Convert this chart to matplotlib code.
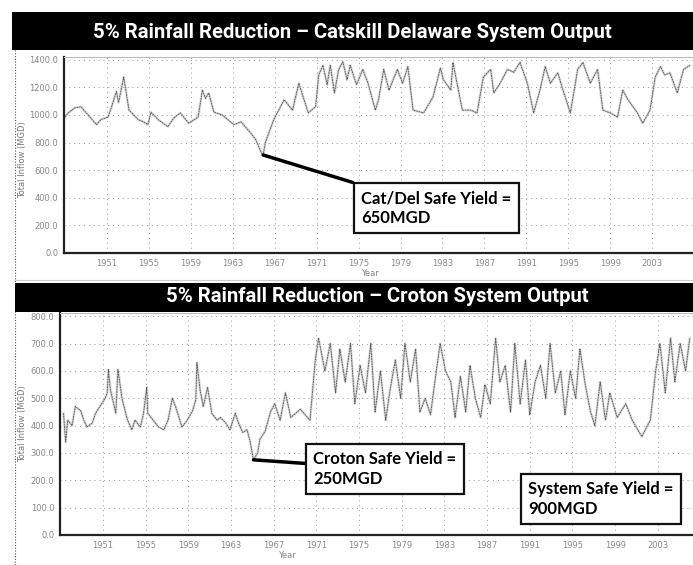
import matplotlib
matplotlib.use('Agg')
import matplotlib.pyplot as plt
from matplotlib.patches import Rectangle
from matplotlib.lines import Line2D

# ---- data ----
top_years = [1947.0, 1947.3, 1947.9, 1948.5, 1949.2, 1950.0, 1950.4, 1951.1, 1951.4, 1951.9,
             1952.1, 1952.6, 1953.1, 1954.0, 1954.5, 1954.9, 1955.2, 1955.9, 1956.8, 1957.4,
             1958.0, 1958.8, 1959.7, 1960.1, 1960.4, 1960.7, 1961.2, 1962.0, 1963.1, 1963.8,
             1964.7, 1965.2, 1965.7, 1965.9, 1966.1, 1966.9, 1967.9, 1968.7, 1969.3, 1970.2,
             1970.9, 1971.2, 1971.6, 1972.0, 1972.3, 1972.7, 1973.1, 1973.5, 1973.9, 1974.2,
             1974.8, 1975.4, 1975.9, 1976.6, 1976.9, 1977.4, 1977.9, 1978.7, 1979.2, 1979.7,
             1980.2, 1981.2, 1982.1, 1982.8, 1983.1, 1983.8, 1984.0, 1984.9, 1985.7, 1986.3,
             1986.9, 1987.6, 1987.9, 1988.5, 1989.2, 1989.8, 1990.4, 1991.1, 1991.7, 1992.3,
             1992.8, 1993.3, 1994.0, 1994.5, 1995.2, 1995.9, 1996.4, 1997.1, 1997.8, 1998.3,
             1999.0, 1999.7, 2000.2, 2000.7, 2001.6, 2002.1, 2002.8, 2003.3, 2003.8, 2004.2,
             2004.7, 2005.4, 2006.0, 2006.6]
top_vals = [985, 1015, 1050, 1060, 1000, 930, 965, 985, 1050, 1170,
            1090, 1275, 1035, 965, 950, 930, 1020, 965, 915, 980,
            1015, 940, 985, 1180, 1120, 1160, 1020, 1000, 930, 950,
            870, 820, 730, 710, 800, 965, 1110, 1035, 1230, 1015,
            1060, 1290, 1360, 1220, 1360, 1160, 1330, 1385, 1255, 1360,
            1220, 1330, 1230, 1035, 1110, 1330, 1180, 1330, 1230, 1350,
            1035, 1015, 1130, 1340, 1255, 1180, 1380, 1035, 1035, 1015,
            1275, 1330, 1160, 1230, 1330, 1310, 1380, 1230, 1015, 1180,
            1350, 1230, 1305, 1180, 1015, 1330, 1380, 1230, 1330, 1035,
            1015, 985, 1180, 1110, 1015, 940, 1035, 1275, 1350, 1290,
            1305, 1160, 1330, 1360]

bot_years = [1947.3, 1947.5, 1947.7, 1948.1, 1948.4, 1948.9, 1949.2, 1949.5, 1950.0, 1950.3,
             1950.7, 1951.2, 1951.4, 1951.5, 1951.7, 1952.2, 1952.4, 1952.8, 1953.3, 1953.7,
             1954.0, 1954.5, 1954.8, 1955.1, 1955.2, 1955.7, 1956.2, 1956.7, 1957.1, 1957.5,
             1957.8, 1958.4, 1958.9, 1959.4, 1959.7, 1959.8, 1960.1, 1960.4, 1960.8, 1961.2,
             1961.7, 1962.0, 1962.5, 1962.9, 1963.4, 1963.7, 1964.1, 1964.5, 1964.8, 1965.1,
             1965.5, 1965.7, 1966.2, 1966.7, 1967.1, 1967.6, 1968.1, 1968.6, 1969.5, 1970.4,
             1970.9, 1971.2, 1971.8, 1972.3, 1972.8, 1973.2, 1973.7, 1974.2, 1974.6, 1975.1,
             1975.6, 1976.1, 1976.5, 1977.0, 1977.5, 1977.9, 1978.4, 1978.9, 1979.3, 1979.8,
             1980.3, 1980.7, 1981.2, 1981.7, 1982.1, 1982.6, 1983.1, 1983.6, 1984.0, 1984.5,
             1985.0, 1985.4, 1985.9, 1986.4, 1986.8, 1987.3, 1987.8, 1988.2, 1988.7, 1989.2,
             1989.6, 1990.1, 1990.6, 1991.0, 1991.5, 1992.0, 1992.5, 1992.9, 1993.4, 1993.9,
             1994.3, 1994.8, 1995.3, 1995.7, 1996.2, 1996.7, 1997.1, 1997.6, 1998.1, 1998.5,
             1999.2, 2000.0, 2000.6, 2001.5, 2002.3, 2002.8, 2003.2, 2003.7, 2004.2, 2004.6,
             2005.1, 2005.6, 2006.0]
bot_vals = [445, 340, 420, 400, 470, 455, 420, 395, 410, 445,
            470, 500, 520, 605, 530, 445, 605, 495, 420, 385,
            420, 395, 445, 540, 445, 420, 395, 385, 420, 500,
            470, 395, 420, 455, 495, 630, 530, 470, 540, 445,
            420, 430, 410, 385, 445, 410, 375, 385, 340, 275,
            300, 350, 380, 450, 480, 420, 520, 430, 460, 420,
            640, 720, 600, 700, 520, 680, 560, 700, 480, 620,
            520, 700, 450, 600, 420, 530, 640, 500, 700, 560,
            680, 450, 500, 440, 560, 700, 600, 560, 430, 580,
            450, 620, 500, 430, 550, 480, 720, 560, 620, 450,
            700, 480, 640, 440, 560, 620, 500, 700, 520, 600,
            440, 600, 500, 680, 550, 450, 400, 560, 420, 520,
            430, 480, 420, 360, 420, 600, 700, 520, 720, 560,
            700, 600, 720]

year_ticks = [1951, 1955, 1959, 1963, 1967, 1971, 1975, 1979, 1983, 1987, 1991, 1995, 1999, 2003]
top_yticks = [0, 200, 400, 600, 800, 1000, 1200, 1400]
bot_yticks = [0, 100, 200, 300, 400, 500, 600, 700, 800]

W, H = 693, 565
fig = plt.figure(figsize=(W / 100, H / 100), dpi=100)
fig.patch.set_facecolor('white')

def fx(px):
    return px / W

def fy(py):
    return 1 - py / H

label_font = ['Lato', 'DejaVu Sans']
title_font = ['Roboto', 'DejaVu Sans']


def style_axes(ax, yticks, ylim, xlim):
    ax.set_xlim(*xlim)
    ax.set_ylim(*ylim)
    ax.set_xticks(year_ticks)
    ax.set_yticks(yticks)
    ax.set_yticklabels(['%.1f' % v for v in yticks])
    ax.tick_params(axis='both', labelsize=6, colors='#888888', length=0, pad=4)
    ax.grid(True, linestyle=(0, (1, 4)), color='#999999', lw=0.7)
    for s in ['left', 'bottom']:
        ax.spines[s].set_color('#222222')
        ax.spines[s].set_linewidth(1.6)
    ax.spines['top'].set_color('#bbbbbb')
    ax.spines['top'].set_linewidth(0.8)
    ax.spines['right'].set_visible(False)


box_style = dict(boxstyle='square,pad=0.45', fc='white', ec='#111111', lw=1.6)
line_style = dict(arrowstyle='-', color='black', lw=2.5, shrinkA=0, shrinkB=0)

# ---- top panel: Catskill / Delaware ----
ax1 = fig.add_axes([fx(64), fy(253), fx(693 - 64), (253 - 57) / H])
ax1.plot(top_years, top_vals, color='#aaaaaa', lw=2.0, alpha=0.35)
ax1.plot(top_years, top_vals, color='#606060', lw=0.7, ls=(0, (2, 0.6)))
style_axes(ax1, top_yticks, (0, 1420), (1946.9, 2006.9))

ax1.annotate('Cat/Del Safe Yield =\n650MGD', xy=(1965.9, 710),
             xytext=(fx(361), fy(208)), textcoords='figure fraction',
             ha='left', va='center', fontsize=12, fontweight='bold',
             family=label_font, linespacing=1.3,
             bbox=box_style, arrowprops=line_style)

# ---- bottom panel: Croton ----
ax2 = fig.add_axes([fx(60), fy(535), fx(693 - 60), (535 - 313) / H])
ax2.plot(bot_years, bot_vals, color='#aaaaaa', lw=2.0, alpha=0.35)
ax2.plot(bot_years, bot_vals, color='#606060', lw=0.7, ls=(0, (2, 0.6)))
style_axes(ax2, bot_yticks, (0, 812), (1946.97, 2006.3))

ax2.annotate('Croton Safe Yield =\n250MGD', xy=(1965.1, 275),
             xytext=(fx(313), fy(469)), textcoords='figure fraction',
             ha='left', va='center', fontsize=12, fontweight='bold',
             family=label_font, linespacing=1.3,
             bbox=box_style, arrowprops=line_style)
ax2.text(fx(528), fy(499), 'System Safe Yield =\n900MGD', transform=fig.transFigure,
         ha='left', va='center', fontsize=12, fontweight='bold',
         family=label_font, linespacing=1.3, bbox=box_style)

# axis labels
fig.text(fx(370), fy(273), 'Year', fontsize=6, color='#888888', ha='center', va='center')
fig.text(fx(287), fy(555), 'Year', fontsize=6, color='#888888', ha='center', va='center')
fig.text(fx(23), fy(160), 'Total Inflow (MGD)', fontsize=6, color='#777777',
         rotation=90, ha='center', va='center')
fig.text(fx(23), fy(424), 'Total Inflow (MGD)', fontsize=6, color='#777777',
         rotation=90, ha='center', va='center')

# title bars
fig.patches.append(Rectangle((fx(12), fy(50)), fx(693 - 12), 38 / H,
                             transform=fig.transFigure, fc='black', ec='none', zorder=5))
fig.patches.append(Rectangle((fx(15), fy(312)), fx(693 - 15), 29 / H,
                             transform=fig.transFigure, fc='black', ec='none', zorder=5))
fig.text(fx(352), fy(32), '5% Rainfall Reduction \u2013 Catskill Delaware System Output',
         color='white', fontsize=14.6, fontweight='bold', family=title_font,
         ha='center', va='center', zorder=6)
fig.text(fx(377), fy(297), '5% Rainfall Reduction \u2013 Croton System Output',
         color='white', fontsize=14.6, fontweight='bold', family=title_font,
         ha='center', va='center', zorder=6)

# scan frame lines
fig.lines.append(Line2D([fx(15), fx(15)], [fy(50), fy(565)], transform=fig.transFigure,
                        color='#555555', lw=0.8, ls=(0, (1, 1.5))))
fig.lines.append(Line2D([fx(15), fx(693)], [fy(280), fy(280)], transform=fig.transFigure,
                        color='#cccccc', lw=0.8))

fig.savefig('out.png', dpi=100)
